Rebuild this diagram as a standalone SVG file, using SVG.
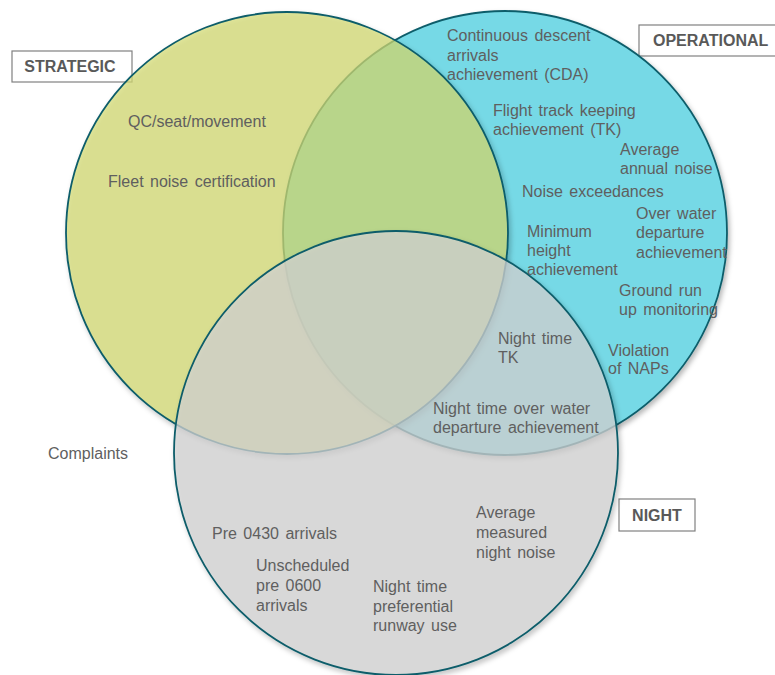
<svg xmlns="http://www.w3.org/2000/svg" width="775" height="675" viewBox="0 0 775 675">
  <style>
    .ring { stroke: #0d5d6a; stroke-width: 1.8; }
    .tag { fill: #ffffff; stroke: #808080; stroke-width: 1.2; }
    .tagtext { font-family: "Liberation Sans", Arial, sans-serif; font-size: 16px; font-weight: bold; fill: #595959; }
    .item { font-family: "Liberation Sans", Arial, sans-serif; font-size: 16px; fill: #5f5f5f; word-spacing: 2px; }
  </style>
  <defs>
    <filter id="soft" x="-10%" y="-10%" width="125%" height="125%">
      <feDropShadow dx="2" dy="3" stdDeviation="2.5" flood-color="#000000" flood-opacity="0.28"/>
    </filter>
  </defs>
  <rect width="775" height="675" fill="#ffffff"/>

  <!-- category tags -->
  <g id="tag-strategic">
    <rect class="tag" x="12" y="51" width="120" height="31"/>
    <text class="tagtext" x="70" y="72" text-anchor="middle">STRATEGIC</text>
  </g>
  <g id="tag-operational">
    <rect class="tag" x="639" y="25" width="140" height="31"/>
    <text class="tagtext" x="653" y="46">OPERATIONAL</text>
  </g>
  <g id="tag-night">
    <rect class="tag" x="619" y="499" width="76" height="32"/>
    <text class="tagtext" x="657" y="521" text-anchor="middle">NIGHT</text>
  </g>

  <!-- the three sets -->
  <g id="operational" filter="url(#soft)">
    <circle class="ring" cx="505" cy="233" r="222" fill="#76d9e6"/>
  </g>
  <g id="strategic" filter="url(#soft)">
    <circle class="ring" cx="287" cy="233" r="221" fill="#d4dc72" fill-opacity="0.7"/>
  </g>
  <g id="night" filter="url(#soft)">
    <circle class="ring" cx="396" cy="453" r="222" fill="#d4d4d4" fill-opacity="0.72"/>
  </g>

  <g id="connectors"></g>

  <!-- measures placed in each set -->
  <g id="items-strategic" class="item">
    <text x="128" y="127">QC/seat/movement</text>
    <text x="108" y="187">Fleet noise certification</text>
  </g>
  <g id="items-operational" class="item">
    <text x="447" y="41">Continuous descent</text>
    <text x="447" y="61">arrivals</text>
    <text x="447" y="80">achievement (CDA)</text>
    <text x="493" y="116">Flight track keeping</text>
    <text x="493" y="135">achievement (TK)</text>
    <text x="620" y="155">Average</text>
    <text x="620" y="174">annual noise</text>
    <text x="522" y="197">Noise exceedances</text>
    <text x="636" y="219">Over water</text>
    <text x="636" y="238">departure</text>
    <text x="636" y="258">achievement</text>
    <text x="527" y="237">Minimum</text>
    <text x="527" y="256">height</text>
    <text x="527" y="275">achievement</text>
    <text x="619" y="296">Ground run</text>
    <text x="619" y="315">up monitoring</text>
    <text x="608" y="356">Violation</text>
    <text x="608" y="374">of NAPs</text>
  </g>
  <g id="items-operational-night" class="item">
    <text x="498" y="344">Night time</text>
    <text x="498" y="363">TK</text>
    <text x="433" y="414">Night time over water</text>
    <text x="433" y="433">departure achievement</text>
  </g>
  <g id="items-night" class="item">
    <text x="212" y="539">Pre 0430 arrivals</text>
    <text x="256" y="571">Unscheduled</text>
    <text x="256" y="591">pre 0600</text>
    <text x="256" y="611">arrivals</text>
    <text x="373" y="592">Night time</text>
    <text x="373" y="612">preferential</text>
    <text x="373" y="631">runway use</text>
    <text x="476" y="518">Average</text>
    <text x="476" y="538">measured</text>
    <text x="476" y="558">night noise</text>
  </g>
  <g id="items-outside" class="item">
    <text x="48" y="459">Complaints</text>
  </g>
</svg>
